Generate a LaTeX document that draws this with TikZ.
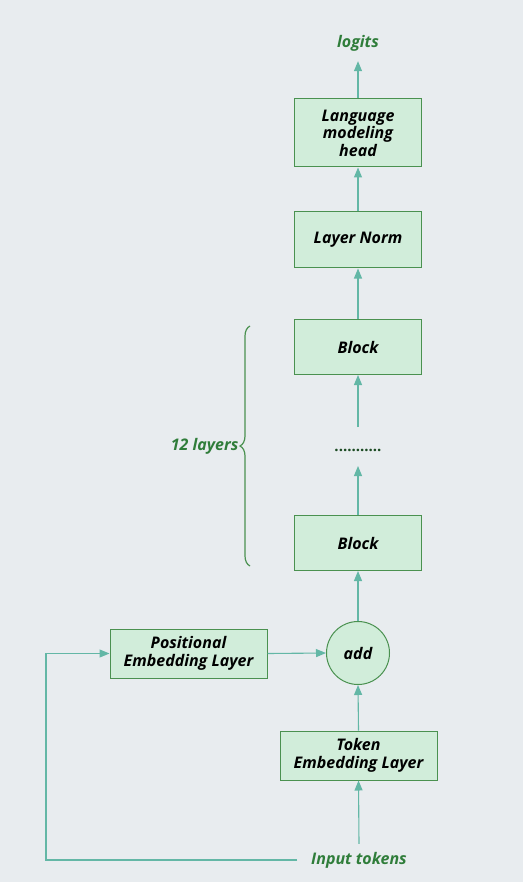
\documentclass[tikz,border=0pt]{standalone}
\usepackage{fontspec}
\setmainfont{Open Sans}
\usetikzlibrary{arrows.meta, decorations.pathreplacing}

\definecolor{bgc}{HTML}{E8ECEF}
\definecolor{boxfill}{HTML}{D1EDDA}
\definecolor{boxline}{HTML}{4A9150}
\definecolor{flowc}{HTML}{63B7A6}
\definecolor{txtgreen}{HTML}{2F7D3A}

\begin{document}
\begin{tikzpicture}[x=1pt,y=-1pt,
  box/.style={draw=boxline, fill=boxfill, line width=1pt, minimum width=127pt, minimum height=56pt, align=center, inner sep=2pt, font=\fontsize{16}{17.5}\selectfont\bfseries\itshape},
  wide/.style={box, minimum width=157pt, minimum height=49pt},
  lbl/.style={text=txtgreen, font=\fontsize{16}{17.5}\selectfont\bfseries\itshape},
  flow/.style={draw=flowc, line width=1.1pt, -{Triangle[length=10pt,width=8pt]}}]

%background
\fill[bgc] (0,0) rectangle (523,882);
\useasboundingbox (0,0) rectangle (523,882);

% Text Node
\node[lbl, inner sep=2pt] (logits) at (358,43) {logits};
% Boxes
\node[box, minimum height=68pt] (lmhead) at (358,133) {Language\\modeling\\head};
\node[box] (lnorm) at (358,240) {Layer Norm};
\node[box, minimum height=55pt] (blocktop) at (358,347) {Block};
\node[text=txtgreen!60!black, font=\fontsize{15}{17}\selectfont\bfseries] (dots) at (358,450) {...........};
\node[box, minimum height=55pt] (blockbot) at (358,543) {Block};
\node[circle, draw=boxline, fill=boxfill, line width=1pt, minimum size=63pt, inner sep=0pt, font=\fontsize{16}{17.5}\selectfont\bfseries\itshape] (addop) at (358,653) {add};
\node[wide] (posemb) at (188.5,653.5) {Positional\\Embedding Layer};
\node[wide] (tokemb) at (358.5,755.5) {Token\\Embedding Layer};
% Text Node
\node[lbl, inner xsep=14pt, inner ysep=8pt] (inputs) at (359,860) {Input tokens};

%brace
\coordinate (bracebot) at (250,566);
\coordinate (bracetop) at (250,326);
\draw[boxline, line width=1.2pt, decorate, decoration={brace, amplitude=10pt}] (bracebot) -- (bracetop)
  node[midway, left=10pt, lbl, inner sep=1pt] (nlayers) {12 layers};

%connectors
\draw[flow] (lmhead.north) -- ([yshift=-8pt]logits.south);
\draw[flow] (lnorm.north) -- (lmhead.south);
\draw[flow] (blocktop.north) -- (lnorm.south);
\draw[flow, shorten <=23pt] (dots.center) -- (blocktop.south);
\draw[flow, shorten >=16pt] (blockbot.north) -- (dots.center);
\draw[flow] (addop.north) -- (blockbot.south);
\draw[flow] (posemb.east) -- (addop.west);
\draw[flow] (tokemb.north) -- (addop.south);
\draw[flow] (inputs.north) -- (tokemb.south);
\coordinate (loopleft) at (46,653.5);
\draw[flow] (inputs.west) -| (loopleft) -- (posemb.west);

\end{tikzpicture}
\end{document}
